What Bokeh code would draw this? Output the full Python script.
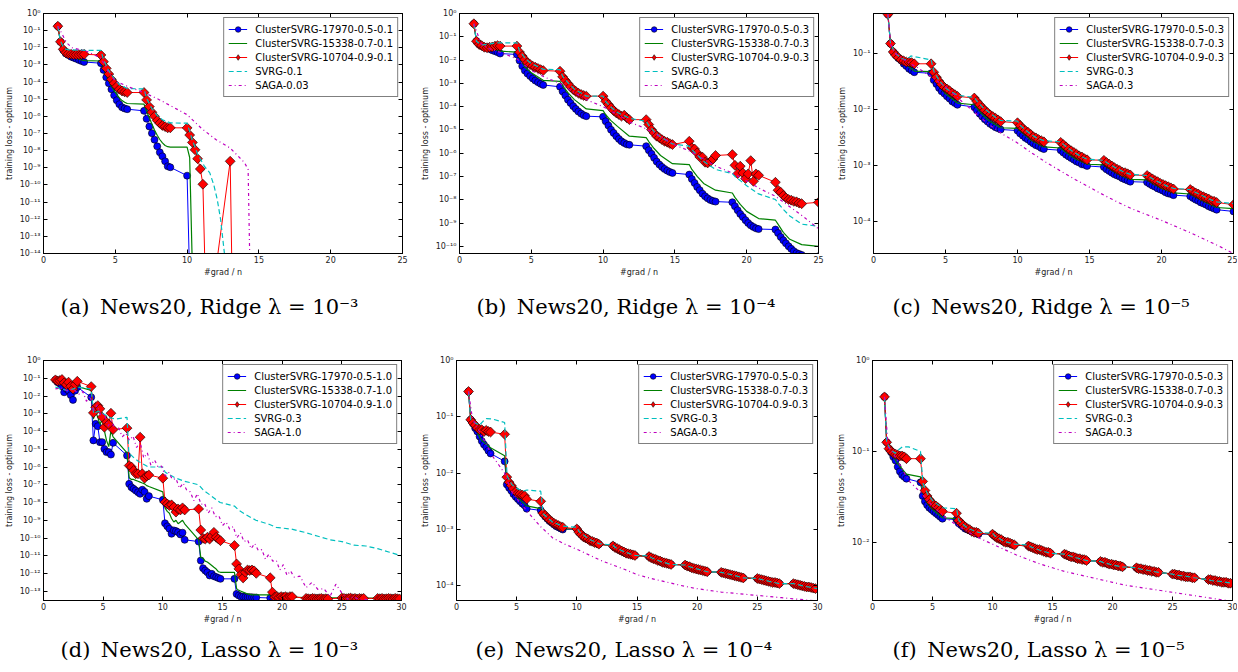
import numpy as np
from bokeh.plotting import figure
from bokeh.layouts import column, row
from bokeh.models import (Range1d, FixedTicker, CustomJSTickFormatter, LogAxis, LinearAxis,
                          Legend, LegendItem, Title)
from bokeh.embed import file_html
from bokeh.resources import INLINE

# ---------------- x grid of the ClusterSVRG / SVRG iterations (#grad / n) ----------------
EPOCH_STARTS = [1, 4, 7, 10, 13, 16, 19, 22, 25, 28]
EPOCH_STEPS = [0.0, 0.18, 0.37, 0.55, 0.73, 0.92, 1.10, 1.28, 1.47, 1.65, 1.83]
SUB_STEPS = [0.0, 0.18, 0.55, 1.0, 1.83]


def grid(n_epochs, steps, final=None):
    xs = [s + o for s in EPOCH_STARTS[:n_epochs] for o in steps]
    if final is not None:
        xs.append(final)
    return xs


X_RIDGE = grid(8, EPOCH_STEPS, 25.0)
XS_RIDGE = grid(8, SUB_STEPS, 25.0)
X_LASSO = grid(10, EPOCH_STEPS)
XS_LASSO = grid(10, SUB_STEPS)

RIDGE_XTICKS = [0, 5, 10, 15, 20, 25]
LASSO_XTICKS = [0, 5, 10, 15, 20, 25, 30]

# ---------------- values: log10(training loss - optimum) ----------------
# (a) Ridge 1e-3
A_BLUE = [-0.74, -1.65, -2.13, -2.33, -2.42, -2.52, -2.58, -2.64, -2.71, -2.77, -2.83,
          -2.90, -3.29, -3.72, -4.07, -4.42, -4.77, -5.06, -5.29, -5.47, -5.54, -5.58,
          -5.68, -6.14, -6.59, -6.98, -7.36, -7.75, -8.10, -8.33, -8.62, -8.91, -8.97,
          -9.46, -15.5]
A_GREEN = [-0.74, -1.65, -2.10, -2.28, -2.38, -2.46, -2.53, -2.60, -2.66, -2.71, -2.75,
           -2.77, -3.20, -3.60, -3.95, -4.25, -4.50, -4.72, -4.92, -5.08, -5.18, -5.25,
           -5.29, -5.70, -6.10, -6.45, -6.80, -7.10, -7.35, -7.55, -7.70, -7.77, -7.79,
           -7.79, -8.40, -15.0]
A_RED = [-0.74, -1.65, -2.09, -2.29, -2.35, -2.38, -2.40, -2.40, -2.40, -2.38, -2.38,
         -2.42, -2.81, -3.20, -3.53, -3.84, -4.07, -4.26, -4.42, -4.52, -4.57, -4.61,
         -4.61, -5.04, -5.43, -5.76, -6.00, -6.24, -6.40, -6.53, -6.60, -6.67, -6.67,
         -6.67, -7.09, -7.52, -7.95, -8.47, -9.07, -9.96, -16.0, -16.0, -16.0, -16.0,
         -8.62, -18.0]
A_SVRG_X = [1.0, 1.18, 1.37, 1.55, 1.9, 2.3, 2.83, 4.0, 4.18, 4.55, 4.92, 5.28, 5.83, 7.0, 7.18,
            7.55, 7.92, 8.28, 8.83, 10.0, 10.37, 10.73, 11.2, 11.58, 11.86, 12.1, 12.33, 12.6, 12.7]
A_SVRG = [-0.74, -1.6, -1.95, -2.08, -2.15, -2.12, -2.15, -2.15, -2.7, -3.35, -3.8, -4.15, -4.38,
          -4.4, -4.95, -5.55, -5.95, -6.2, -6.38, -6.4, -7.4, -8.2, -8.9, -9.3, -10.0, -10.85,
          -12.0, -14.0, -15.0]
A_SAGA_X = [1.0, 1.3, 1.6, 2.0, 2.5, 3.0, 4.0, 4.5, 5.0, 6.0, 7.0, 8.0, 9.0, 10.0, 11.0, 12.0,
            13.0, 14.0, 14.25, 14.4]
A_SAGA = [-0.74, -1.2, -1.7, -2.0, -2.1, -2.2, -2.6, -3.4, -3.95, -4.3, -4.62, -5.0, -5.45, -5.9,
          -6.7, -7.35, -7.85, -8.7, -9.1, -16.0]

# (b) Ridge 1e-4
B_BLUE = [-0.44, -1.19, -1.33, -1.40, -1.45, -1.48, -1.52, -1.58, -1.62, -1.66, -1.72,
          -1.76, -2.02, -2.26, -2.45, -2.58, -2.69, -2.79, -2.88, -2.95, -3.02, -3.07,
          -3.15, -3.35, -3.52, -3.70, -3.84, -3.98, -4.10, -4.21, -4.30, -4.37, -4.41,
          -4.44, -4.63, -4.81, -4.99, -5.13, -5.27, -5.39, -5.49, -5.56, -5.62, -5.64,
          -5.70, -5.87, -6.03, -6.20, -6.36, -6.49, -6.59, -6.68, -6.75, -6.81, -6.85,
          -6.92, -7.11, -7.28, -7.45, -7.59, -7.74, -7.85, -7.94, -8.01, -8.05, -8.08,
          -8.11, -8.28, -8.45, -8.61, -8.74, -8.88, -9.00, -9.10, -9.17, -9.23, -9.26,
          -9.28, -9.43, -9.60, -9.74, -9.87, -10.00, -10.11, -10.21, -10.29, -10.33, -10.37,
          -10.43]
B_GREEN = [-0.44, -1.19, -1.40, -1.47, -1.62,
           -1.66, -1.90, -2.30, -2.55, -2.87,
           -2.92, -3.10, -3.40, -3.70, -4.10,
           -4.17, -4.35, -4.60, -4.85, -5.27,
           -5.33, -5.50, -5.80, -6.10, -6.45,
           -6.49, -6.70, -7.00, -7.30, -7.59,
           -7.71, -7.90, -8.20, -8.50, -8.81,
           -8.88, -9.05, -9.40, -9.70, -9.93,
           -10.0]
B_RED = [-0.44, -1.19, -1.33, -1.38, -1.45, -1.47, -1.45, -1.44, -1.40, -1.38, -1.40,
         -1.40, -1.66, -1.83, -1.98, -2.12, -2.19, -2.26, -2.31, -2.36, -2.41, -2.45,
         -2.48, -2.72, -2.87, -3.01, -3.15, -3.27, -3.35, -3.42, -3.48, -3.52, -3.55,
         -3.55, -3.77, -3.91, -4.05, -4.17, -4.27, -4.34, -4.41, -4.37, -4.48, -4.56,
         -4.56, -4.77, -4.99, -5.13, -5.27, -5.34, -5.42, -5.49, -5.53, -5.59, -5.63,
         -5.49, -5.77, -5.82, -5.99, -6.16, -6.17, -6.39, -6.42, -6.36, -6.25, -6.10,
         -6.06, -6.52, -6.88, -6.56, -6.85, -7.09, -6.89, -6.32, -7.21, -6.89, -6.95,
         -7.25, -7.59, -7.68, -7.82, -7.92, -7.99, -8.02, -8.07, -8.09, -8.14, -8.17,
         -8.11]
B_SVRG_X = [1.0, 1.18, 1.5, 2.0, 2.4, 2.83, 4.0, 4.18, 4.6, 5.0, 5.83, 7.0, 7.18, 7.6, 8.0, 8.83,
            10.0, 10.18, 10.6, 11.0, 11.83, 13.0, 13.18, 13.6, 14.0, 14.83, 16.0, 16.18, 16.6,
            17.0, 17.83, 19.0, 19.18, 19.6, 20.0, 20.83, 22.0, 22.18, 22.6, 23.0, 23.83, 25.0]
B_SVRG = [-0.44, -1.19, -1.35, -1.33, -1.27, -1.26, -1.26, -1.60, -1.95, -2.15, -2.40, -2.41,
          -2.70, -3.00, -3.25, -3.55, -3.55, -3.78, -4.05, -4.25, -4.50, -4.63, -4.80, -5.10,
          -5.30, -5.60, -5.70, -5.85, -6.10, -6.35, -6.70, -6.88, -7.00, -7.20, -7.40, -7.75,
          -7.99, -8.15, -8.45, -8.70, -9.05, -9.14]
B_SAGA_X = [1.0, 1.5, 2.0, 3.0, 4.0, 5.0, 6.0, 7.0, 8.0, 9.0, 10.0, 11.0, 12.0, 13.0, 14.0,
            15.0, 16.0, 17.0, 18.0, 19.0, 20.0, 21.0, 22.0, 23.0, 24.0, 25.0]
B_SAGA = [-0.44, -1.3, -1.5, -1.7, -1.95, -2.45, -2.75, -3.0, -3.4, -3.75, -4.0, -4.35, -4.7,
          -4.95, -5.3, -5.65, -5.9, -6.25, -6.6, -6.85, -7.2, -7.55, -7.85, -8.3, -8.75, -9.25]

# (c) Ridge 1e-5
C_BLUE = [-0.31, -0.83, -0.98, -1.04, -1.09, -1.13, -1.19, -1.23, -1.28, -1.31, -1.34,
          -1.36, -1.48, -1.55, -1.62, -1.68, -1.72, -1.77, -1.81, -1.86, -1.89, -1.92,
          -1.96, -2.02, -2.08, -2.13, -2.18, -2.22, -2.26, -2.29, -2.32, -2.34, -2.36,
          -2.38, -2.43, -2.47, -2.51, -2.54, -2.58, -2.61, -2.64, -2.66, -2.69, -2.71,
          -2.73, -2.77, -2.81, -2.84, -2.87, -2.90, -2.93, -2.95, -2.98, -2.99, -3.01,
          -3.03, -3.07, -3.10, -3.13, -3.16, -3.18, -3.20, -3.23, -3.25, -3.27, -3.29,
          -3.30, -3.33, -3.36, -3.38, -3.41, -3.43, -3.45, -3.48, -3.50, -3.51, -3.53,
          -3.55, -3.58, -3.61, -3.63, -3.66, -3.68, -3.70, -3.73, -3.75, -3.77, -3.79,
          -3.82]
C_GREEN = [-0.31, -0.83, -1.04, -1.15, -1.32,
           -1.33, -1.45, -1.59, -1.72, -1.89,
           -1.92, -1.98, -2.09, -2.20, -2.33,
           -2.34, -2.39, -2.47, -2.56, -2.67,
           -2.69, -2.73, -2.80, -2.88, -2.98,
           -2.99, -3.03, -3.09, -3.16, -3.25,
           -3.26, -3.29, -3.35, -3.41, -3.49,
           -3.51, -3.54, -3.59, -3.65, -3.75,
           -3.77]
C_RED = [-0.31, -0.83, -0.98, -1.04, -1.08, -1.12, -1.14, -1.16, -1.16, -1.17, -1.19,
         -1.19, -1.34, -1.43, -1.50, -1.56, -1.61, -1.64, -1.67, -1.71, -1.74, -1.77,
         -1.80, -1.86, -1.92, -1.97, -2.02, -2.06, -2.10, -2.13, -2.16, -2.19, -2.22,
         -2.24, -2.29, -2.34, -2.38, -2.41, -2.45, -2.49, -2.51, -2.54, -2.56, -2.58,
         -2.59, -2.63, -2.67, -2.71, -2.74, -2.77, -2.80, -2.83, -2.85, -2.88, -2.90,
         -2.91, -2.95, -2.98, -3.01, -3.04, -3.07, -3.09, -3.12, -3.13, -3.15, -3.17,
         -3.18, -3.21, -3.24, -3.27, -3.29, -3.32, -3.34, -3.36, -3.38, -3.40, -3.42,
         -3.43, -3.46, -3.49, -3.51, -3.54, -3.56, -3.58, -3.60, -3.63, -3.64, -3.66,
         -3.70]
C_SVRG_X = [1.0, 1.18, 1.5, 2.0, 2.3, 2.6, 4.0, 4.2, 4.6, 5.0, 5.4, 5.83, 7.0, 7.2, 7.6, 8.0, 8.4,
            8.83, 10.0, 10.2, 10.6, 11.0, 11.4, 11.83, 13.0, 13.2, 13.6, 14.0, 14.4, 14.83, 16.0,
            16.2, 16.6, 17.0, 17.4, 17.83, 19.0, 19.2, 19.6, 20.0, 20.4, 20.83, 22.0, 22.2, 22.6,
            23.0, 23.4, 23.83, 25.0]
C_SVRG = [-0.31, -0.83, -1.0, -1.1, -1.12, -1.05, -1.12, -1.33, -1.5, -1.62, -1.69, -1.75,
          -1.79, -1.86, -1.97, -2.05, -2.13, -2.2, -2.21, -2.29, -2.38, -2.46, -2.52, -2.56,
          -2.58, -2.63, -2.71, -2.78, -2.84, -2.89, -2.91, -2.95, -3.01, -3.07, -3.12, -3.16,
          -3.18, -3.21, -3.27, -3.32, -3.37, -3.41, -3.43, -3.46, -3.51, -3.56, -3.61, -3.65,
          -3.68]
C_SAGA_X = [1.0, 1.2, 1.5, 2.0, 2.5, 3.0, 4.0, 5.0, 6.0, 7.0, 8.0, 9.0, 10.0, 11.0, 12.0, 13.0,
            14.0, 15.0, 16.0, 17.0, 18.0, 19.0, 20.0, 21.0, 22.0, 23.0, 24.0, 25.0]
C_SAGA = [-0.31, -0.85, -1.0, -1.1, -1.18, -1.25, -1.42, -1.6, -1.83, -2.05, -2.27, -2.45, -2.6,
          -2.78, -2.95, -3.1, -3.25, -3.39, -3.53, -3.66, -3.78, -3.88, -3.98, -4.09, -4.2,
          -4.32, -4.44, -4.57]

# (d) Lasso 1e-3
D_BLUE = [-1.09, -1.22, -1.30, -1.45, -1.79, -1.60, -1.69, -1.95, -2.22, -1.70, -1.50,
          -2.07, -4.50, -3.57, -3.70, -4.60, -4.60, -4.98, -5.16, -5.16, -5.30, -4.64,
          -5.35, -6.95, -7.14, -7.23, -7.32, -7.42, -7.51, -7.28, -7.40, -7.79, -7.64,
          -7.85, -9.17, -9.34, -9.48, -9.76, -9.57, -9.61, -9.67, -9.80, -9.70, -10.10,
          -10.20, -11.27, -11.70, -11.83, -11.93, -12.11, -12.02, -12.15, -12.20, -12.25, -12.30,
          -12.30, -13.15, -13.24, -13.30, -13.30, -13.32, -13.33, -13.33, -13.34, -13.35, -13.35,
          -13.38, -13.60]
D_GREEN = [-1.09, -1.20, -1.25, -1.35, -1.50, -1.55, -1.45, -1.65, -1.70, -1.50, -1.46,
           -1.69, -3.30, -2.90, -3.20, -3.60, -3.30, -3.95, -4.50, -4.85, -3.95, -4.30,
           -5.20, -6.60, -6.70, -6.70, -6.75, -6.80, -6.85, -6.90, -6.95, -7.05, -7.10,
           -7.40, -8.30, -8.50, -8.60, -8.90, -9.10, -9.00, -9.20, -9.10, -9.00, -9.20,
           -10.10, -11.10, -11.15, -11.30, -11.35, -11.45, -11.55, -11.65, -11.75, -11.90, -11.93,
           -11.93, -12.85, -12.95, -13.00, -13.05, -13.10, -13.15, -13.18, -13.20, -13.20, -13.20]
D_GREEN_TAIL_X = [19.0, 19.18, 22.0, 30.0]
D_GREEN_TAIL = [-13.20, -13.30, -13.35, -13.40]
D_RED = [-1.09, -1.15, -1.13, -1.07, -1.26, -1.37, -1.22, -1.45, -1.60, -1.35, -1.17,
         -1.47, -2.95, -2.63, -2.54, -2.72, -3.19, -3.76, -3.47, -3.60, -2.97, -3.89,
         -3.81, -5.92, -6.00, -6.20, -6.38, -6.38, -4.32, -6.38, -6.63, -6.50, -6.45,
         -6.63, -7.98, -8.08, -8.17, -8.13, -8.26, -8.54, -8.36, -8.42, -8.30, -8.42,
         -8.36, -9.55, -10.02, -10.06, -9.96, -10.06, -9.90, -9.68, -9.96, -10.05, -10.15,
         -10.42, -11.46, -11.74, -12.06, -12.25, -11.93, -11.80, -11.83, -11.80, -11.85, -11.99,
         -12.24, -13.05, -13.33, -13.30, -13.35, -13.30, -13.33, -13.30, -13.35, -13.30, -13.30,
         -13.40, -13.42, -13.43, -13.40, -13.42, -13.43, -13.42, -13.40, -13.43, -13.42, -13.43,
         -13.38, -13.40, -13.42, -13.40, -13.38, -13.42, -13.40, -13.43, -13.40, -13.42, -13.40,
         -13.40, -13.42, -13.40, -13.43, -13.42, -13.40, -13.42, -13.43, -13.40, -13.42, -13.43]
D_SVRG_X = [1.0, 1.5, 2.0, 2.5, 2.83, 4.0, 4.2, 4.6, 5.0, 5.5, 6.0, 7.0, 7.15, 7.6, 8.0, 8.8, 10.0,
            10.2, 10.6, 11.0, 11.8, 13.0, 13.4, 14.0, 14.8, 16.0, 16.4, 17.0, 17.8, 19.0, 19.5,
            20.8, 22.0, 23.0, 24.0, 25.0, 26.0, 27.0, 28.0, 29.0, 30.0]
D_SVRG = [-1.5, -1.6, -1.7, -1.6, -1.5, -1.6, -3.0, -2.85, -3.0, -3.2, -3.3, -3.2, -5.2, -5.5,
          -5.7, -6.0, -6.0, -6.3, -6.45, -6.6, -6.8, -7.0, -7.3, -7.6, -8.0, -8.2, -8.45, -8.7,
          -9.0, -9.25, -9.4, -9.5, -9.7, -9.9, -10.1, -10.2, -10.4, -10.45, -10.6, -10.8, -11.0]
D_SAGA_X = [1.0, 1.5, 2.0, 2.5, 3.0, 3.3, 3.6, 3.9, 4.2, 4.5, 4.8, 5.1, 5.4, 5.7, 6.0, 6.3, 6.6,
            6.9, 7.2, 7.5, 7.8, 8.1, 8.4, 8.7, 9.0, 9.3, 9.6, 9.9, 10.2, 10.5, 10.8, 11.1, 11.4,
            11.7, 12.0, 12.3, 12.6, 12.9, 13.2, 13.5, 13.8, 14.1, 14.4, 14.7, 15.0, 15.3, 15.6,
            15.9, 16.2, 16.5, 16.8, 17.1, 17.4, 17.7, 18.0, 18.3, 18.6, 18.9, 19.2, 19.5, 19.8,
            20.1, 20.4, 20.7, 21.0, 21.5, 22.0, 22.5, 23.0, 23.5, 24.0, 24.5, 25.0, 25.5, 26.0,
            26.5, 27.0, 28.0]
D_SAGA = [-1.6, -1.55, -1.7, -1.6, -1.9, -1.75, -2.3, -2.0, -2.9, -2.5,
          -3.1, -3.0, -3.7, -3.4, -3.9, -3.8, -4.3, -4.1, -4.5, -4.25,
          -4.9, -4.6, -5.5, -5.2, -5.9, -5.6, -6.0, -5.95, -6.5, -6.3,
          -6.7, -6.65, -7.2, -6.9, -7.3, -7.4, -7.9, -7.5, -8.1, -8.05,
          -8.6, -8.3, -8.8, -8.75, -9.3, -9.1, -9.5, -9.35, -10.0, -9.7,
          -10.2, -10.1, -10.6, -10.3, -10.7, -10.65, -11.2, -10.9, -11.3, -11.25,
          -11.8, -11.5, -12.1, -11.85, -12.2, -12.15, -12.8, -12.5, -12.9, -12.85,
          -13.3, -12.6, -13.1, -13.45, -13.3, -13.5, -13.45, -13.7]

# (e) Lasso 1e-4
E_RED = [-0.55, -1.05, -1.11, -1.15, -1.20, -1.23, -1.23, -1.26, -1.24, -1.26, -1.27,
         -1.31, -2.07, -2.16, -2.22, -2.28, -2.33, -2.36, -2.37, -2.39, -2.40, -2.46,
         -2.50, -2.71, -2.75, -2.79, -2.83, -2.86, -2.89, -2.91, -2.93, -2.95, -2.96,
         -2.99, -3.05, -3.09, -3.13, -3.15, -3.17, -3.20, -3.21, -3.23, -3.24, -3.26,
         -3.29, -3.32, -3.34, -3.36, -3.38, -3.40, -3.42, -3.43, -3.44, -3.45, -3.46,
         -3.48, -3.50, -3.52, -3.53, -3.55, -3.56, -3.58, -3.59, -3.60, -3.61, -3.62,
         -3.63, -3.65, -3.66, -3.68, -3.69, -3.70, -3.71, -3.72, -3.73, -3.74, -3.75,
         -3.76, -3.77, -3.78, -3.79, -3.80, -3.81, -3.82, -3.83, -3.84, -3.85, -3.86,
         -3.87, -3.88, -3.89, -3.90, -3.91, -3.92, -3.93, -3.94, -3.94, -3.95, -3.96,
         -3.96, -3.97, -3.98, -3.99, -4.00, -4.01, -4.02, -4.02, -4.03, -4.04, -4.05]
E_BLUE = [-0.55, -1.05, -1.12, -1.20, -1.26, -1.35, -1.43, -1.49, -1.54, -1.60, -1.65,
          -1.79, -2.20, -2.26, -2.31, -2.37, -2.42, -2.46, -2.50, -2.54, -2.57, -2.63,
          -2.66, -2.72, -2.77, -2.81, -2.85, -2.88, -2.91, -2.94, -2.96, -2.98, -3.00] + E_RED[33:]
E_GREEN = [-0.55, -1.05, -1.19, -1.40, -1.55,
           -1.69, -2.15, -2.28, -2.42, -2.58,
           -2.63, -2.70, -2.79, -2.88, -2.99,
           -2.99, -3.05, -3.13, -3.19, -3.26,
           -3.29, -3.32, -3.36, -3.41, -3.46,
           -3.48, -3.50, -3.53, -3.57, -3.62,
           -3.63, -3.65, -3.68, -3.71, -3.75,
           -3.76, -3.77, -3.79, -3.82, -3.86,
           -3.87, -3.88, -3.90, -3.93, -3.96,
           -3.96, -3.97, -3.99, -4.01, -4.05]
E_SVRG_X = [1.0, 1.18, 1.5, 1.9, 2.2, 2.5, 3.0, 4.0, 4.2, 4.6, 5.0, 5.5, 5.83, 7.0, 7.2, 7.6, 8.0,
            8.83, 10.0, 10.2, 11.0, 11.83, 13.0, 13.2, 14.0, 14.83, 16.0, 16.2, 17.0, 17.83, 19.0,
            19.2, 20.0, 20.83, 22.0, 22.2, 23.0, 23.83, 25.0, 25.2, 26.0, 26.83, 28.0, 28.2, 29.0,
            30.0]
E_SVRG = [-0.55, -1.05, -1.10, -1.15, -1.08, -1.03, -1.04, -1.10, -2.05, -2.20, -2.27, -2.32,
          -2.30, -2.32, -2.72, -2.80, -2.87, -2.94, -2.96, -3.04, -3.17, -3.25, -3.28, -3.32,
          -3.40, -3.46, -3.47, -3.50, -3.57, -3.62, -3.63, -3.65, -3.70, -3.75, -3.76, -3.77,
          -3.81, -3.86, -3.87, -3.88, -3.92, -3.96, -3.96, -3.97, -4.01, -4.05]
E_SAGA_X = [1.0, 1.3, 1.6, 2.0, 2.5, 3.0, 3.5, 4.0, 4.5, 5.0, 6.0, 7.0, 8.0, 9.0, 10.0, 11.0, 12.0,
            13.0, 14.0, 15.0, 16.0, 17.0, 18.0, 19.0, 20.0, 21.0, 22.0, 23.0, 24.0, 25.0, 26.0,
            27.0, 28.0, 29.0, 30.0]
E_SAGA = [-0.55, -1.0, -1.15, -1.3, -1.5, -1.7, -1.85, -2.0, -2.3, -2.45, -2.71, -2.95, -3.15,
          -3.26, -3.35, -3.45, -3.55, -3.63, -3.71, -3.8, -3.86, -3.91, -3.96, -4.01, -4.05,
          -4.08, -4.11, -4.13, -4.15, -4.17, -4.19, -4.21, -4.23, -4.25, -4.27]

# (f) Lasso 1e-5
F_RED = [-0.40, -0.90, -0.97, -1.00, -1.02, -1.03, -1.04, -1.05, -1.05, -1.06, -1.08,
         -1.08, -1.33, -1.43, -1.49, -1.53, -1.56, -1.59, -1.60, -1.62, -1.64, -1.66,
         -1.68, -1.76, -1.79, -1.81, -1.83, -1.85, -1.86, -1.88, -1.89, -1.89, -1.90,
         -1.91, -1.93, -1.95, -1.96, -1.97, -1.99, -2.00, -2.00, -2.01, -2.02, -2.03,
         -2.04, -2.05, -2.06, -2.07, -2.08, -2.08, -2.09, -2.10, -2.11, -2.11, -2.12,
         -2.13, -2.14, -2.15, -2.16, -2.16, -2.17, -2.18, -2.18, -2.19, -2.19, -2.20,
         -2.21, -2.22, -2.22, -2.23, -2.24, -2.24, -2.25, -2.25, -2.26, -2.26, -2.27,
         -2.28, -2.29, -2.29, -2.30, -2.30, -2.31, -2.31, -2.32, -2.32, -2.33, -2.33,
         -2.35, -2.35, -2.36, -2.36, -2.37, -2.37, -2.38, -2.38, -2.38, -2.39, -2.39,
         -2.41, -2.41, -2.42, -2.42, -2.43, -2.43, -2.44, -2.44, -2.44, -2.45, -2.45]
F_BLUE = [-0.40, -0.90, -0.97, -1.01, -1.06, -1.10, -1.17, -1.22, -1.26, -1.28, -1.30,
          -1.34, -1.49, -1.55, -1.59, -1.62, -1.64, -1.66, -1.68, -1.70, -1.72, -1.74,
          -1.75, -1.79, -1.81, -1.83, -1.85, -1.86, -1.87, -1.88, -1.89, -1.90, -1.91] + F_RED[33:]
F_GREEN = [-0.40, -0.90, -1.00, -1.12, -1.25,
           -1.28, -1.45, -1.57, -1.64, -1.73,
           -1.74, -1.78, -1.83, -1.86, -1.90,
           -1.91, -1.93, -1.96, -1.99, -2.03,
           -2.04, -2.05, -2.07, -2.09, -2.12,
           -2.13, -2.14, -2.16, -2.17, -2.20,
           -2.21, -2.22, -2.23, -2.25, -2.27,
           -2.28, -2.29, -2.30, -2.31, -2.33,
           -2.35, -2.35, -2.36, -2.37, -2.39,
           -2.41, -2.41, -2.42, -2.43, -2.45]
F_SVRG_X = [1.0, 1.18, 1.5, 1.9, 2.2, 2.5, 3.0, 4.0, 4.2, 4.6, 5.0, 5.4, 5.83, 7.0, 7.2, 7.6, 8.0,
            8.83, 10.0, 10.2, 11.0, 11.83, 13.0, 13.2, 14.0, 14.83, 16.0, 16.2, 17.0, 17.83, 19.0,
            19.2, 20.0, 20.83, 22.0, 22.2, 23.0, 23.83, 25.0, 25.2, 26.0, 26.83, 28.0, 28.2, 29.0,
            30.0]
F_SVRG = [-0.40, -0.90, -0.98, -1.02, -0.98, -0.95, -0.95, -1.00, -1.35, -1.47, -1.54, -1.58,
          -1.62, -1.63, -1.76, -1.81, -1.85, -1.89, -1.90, -1.93, -1.99, -2.02, -2.03, -2.05,
          -2.09, -2.12, -2.13, -2.14, -2.17, -2.20, -2.21, -2.22, -2.25, -2.27, -2.28, -2.29,
          -2.31, -2.33, -2.35, -2.36, -2.37, -2.39, -2.41, -2.42, -2.43, -2.45]
F_SAGA_X = [1.0, 1.3, 1.6, 2.0, 2.5, 3.0, 4.0, 5.0, 6.0, 7.0, 8.0, 9.0, 10.0, 11.0, 12.0, 13.0,
            14.0, 15.0, 16.0, 17.0, 18.0, 19.0, 20.0, 21.0, 22.0, 23.0, 24.0, 25.0, 26.0, 27.0,
            28.0, 29.0, 30.0]
F_SAGA = [-0.4, -0.95, -1.0, -1.08, -1.2, -1.32, -1.45, -1.6, -1.72, -1.81, -1.89, -1.96, -2.02,
          -2.08, -2.14, -2.19, -2.24, -2.28, -2.32, -2.35, -2.38, -2.41, -2.44, -2.47, -2.49,
          -2.51, -2.53, -2.55, -2.57, -2.59, -2.61, -2.63, -2.65]

# ---------------- labels ----------------
NAMES_A = ["ClusterSVRG-17970-0.5-0.1", "ClusterSVRG-15338-0.7-0.1", "ClusterSVRG-10704-0.9-0.1",
           "SVRG-0.1", "SAGA-0.03"]
NAMES_B = ["ClusterSVRG-17970-0.5-0.3", "ClusterSVRG-15338-0.7-0.3", "ClusterSVRG-10704-0.9-0.3",
           "SVRG-0.3", "SAGA-0.3"]
NAMES_D = ["ClusterSVRG-17970-0.5-1.0", "ClusterSVRG-15338-0.7-1.0", "ClusterSVRG-10704-0.9-1.0",
           "SVRG-0.3", "SAGA-1.0"]
CAPTIONS = ["(a)\u2002News20, Ridge \u03bb = 10\u207b\u00b3",
            "(b)\u2002News20, Ridge \u03bb = 10\u207b\u2074",
            "(c)\u2002News20, Ridge \u03bb = 10\u207b\u2075",
            "(d)\u2002News20, Lasso \u03bb = 10\u207b\u00b3",
            "(e)\u2002News20, Lasso \u03bb = 10\u207b\u2074",
            "(f)\u2002News20, Lasso \u03bb = 10\u207b\u2075"]

# ---------------- styling ----------------
FONT = "DejaVu Sans"
CAP_FONT = "DejaVu Serif"
BLUE, GREEN, RED, CYAN, MAGENTA = "#0000ff", "#008000", "#ff0000", "#00bfbf", "#bf00bf"
SUP_JS = """
const s = {'-':'\u207b','0':'\u2070','1':'\u00b9','2':'\u00b2','3':'\u00b3','4':'\u2074',
           '5':'\u2075','6':'\u2076','7':'\u2077','8':'\u2078','9':'\u2079'};
const e = Math.round(Math.log10(tick));
return '10' + String(e).split('').map(c => s[c]).join('');
"""


def ylog(v):
    return 10.0 ** np.asarray(v, dtype=float)


def style_axis(ax):
    ax.major_tick_in = 4
    ax.major_tick_out = 0
    ax.minor_tick_line_color = None
    ax.axis_line_color = "black"
    ax.major_tick_line_color = "black"
    ax.major_label_text_font = FONT
    ax.major_label_text_font_size = "8px"
    ax.major_label_text_color = "#222222"
    ax.axis_label_text_font = FONT
    ax.axis_label_text_font_size = "8px"
    ax.axis_label_text_font_style = "normal"
    ax.axis_label_text_color = "#222222"


def panel(xmax, xticks, ylo, yhi, yexps, names, caption, cap_off, cap_standoff,
          blue, green, red, svrg, saga, width, height, bl, br, bt, bb):
    p = figure(width=width, height=height, title=None,
               x_range=Range1d(0, xmax), y_range=Range1d(10.0 ** ylo, 10.0 ** yhi),
               y_axis_type="log", output_backend="svg", toolbar_location=None,
               min_border_left=bl, min_border_right=br, min_border_top=bt, min_border_bottom=bb)
    p.background_fill_color = "white"
    p.border_fill_color = "white"
    p.outline_line_color = "black"
    p.outline_line_width = 1
    p.xgrid.visible = False
    p.ygrid.visible = False
    yticks = [10.0 ** k for k in yexps]

    p.xaxis.ticker = FixedTicker(ticks=xticks)
    p.yaxis.ticker = FixedTicker(ticks=yticks)
    p.yaxis.formatter = CustomJSTickFormatter(code=SUP_JS)
    style_axis(p.xaxis[0])
    style_axis(p.yaxis[0])
    p.xaxis.axis_label = "#grad / n"
    p.yaxis.axis_label = "training loss - optimum"
    p.xaxis.major_label_standoff = 2
    p.xaxis.axis_label_standoff = 2
    p.yaxis.major_label_standoff = 3
    p.yaxis.axis_label_standoff = 3

    empty = "return '';"
    ra = LogAxis(ticker=FixedTicker(ticks=yticks), formatter=CustomJSTickFormatter(code=empty))
    ta = LinearAxis(ticker=FixedTicker(ticks=xticks), formatter=CustomJSTickFormatter(code=empty))
    for ax in (ra, ta):
        style_axis(ax)
        ax.major_label_standoff = 0
        ax.major_label_text_font_size = "1px"
    p.add_layout(ra, "right")
    p.add_layout(ta, "above")

    bx, by = blue
    gx, gy = green
    rx, ry = red
    sx, sy = svrg
    qx, qy = saga
    bl_r = p.line(bx, ylog(by), line_color=BLUE, line_width=1)
    bp_r = p.scatter(bx, ylog(by), marker="circle", size=7, fill_color=BLUE,
                     line_color="black", line_width=0.6)
    g_r = p.line(gx, ylog(gy), line_color=GREEN, line_width=1.2)
    rl_r = p.line(rx, ylog(ry), line_color=RED, line_width=1)
    p.scatter(rx, ylog(ry), marker="square", angle=np.pi / 4, size=7, fill_color=RED,
              line_color="black", line_width=0.6)
    # legend-only diamond, placed outside the visible x range
    rleg = p.scatter([-100.0], [0.1], marker="diamond", size=9, fill_color=RED,
                     line_color="black", line_width=0.6)
    s_r = p.line(sx, ylog(sy), line_color=CYAN, line_width=1.2, line_dash="5 3")
    q_r = p.line(qx, ylog(qy), line_color=MAGENTA, line_width=1.2, line_dash="3 3 1 3")

    items = [LegendItem(label=names[0], renderers=[bl_r, bp_r]),
             LegendItem(label=names[1], renderers=[g_r]),
             LegendItem(label=names[2], renderers=[rl_r, rleg]),
             LegendItem(label=names[3], renderers=[s_r]),
             LegendItem(label=names[4], renderers=[q_r])]
    lg = Legend(items=items, location="top_right", margin=4, padding=4, spacing=0,
                label_text_font=FONT, label_text_font_size="10px", label_text_color="black",
                label_height=14, glyph_height=14, glyph_width=19, label_standoff=8,
                border_line_color="black", border_line_width=1,
                background_fill_color="white", background_fill_alpha=1.0)
    p.add_layout(lg)

    cap = Title(text=caption, align="left", offset=cap_off, standoff=cap_standoff,
                text_font=CAP_FONT, text_font_size="21px", text_font_style="normal",
                text_color="black")
    p.add_layout(cap, "below")
    return p


def xs(grid_x, vals):
    return grid_x[:len(vals)]


# row 1: figures 0..346 px tall, frames 13..253 ; row 2: 346..671, frames 360..600
pa = panel(25, RIDGE_XTICKS, -14.0, 0.0, list(range(-14, 1)), NAMES_A, CAPTIONS[0], 17, 26,
           (xs(X_RIDGE, A_BLUE), A_BLUE), (xs(X_RIDGE, A_GREEN), A_GREEN),
           (xs(X_RIDGE, A_RED), A_RED), (A_SVRG_X, A_SVRG), (A_SAGA_X, A_SAGA),
           416, 346, 43, 14, 13, 93)
pb = panel(25, RIDGE_XTICKS, -10.31, 0.0, list(range(-10, 1)), NAMES_B, CAPTIONS[1], 17, 26,
           (X_RIDGE, B_BLUE), (XS_RIDGE, B_GREEN), (X_RIDGE, B_RED),
           (B_SVRG_X, B_SVRG), (B_SAGA_X, B_SAGA),
           413, 346, 43, 11, 13, 93)
pc = panel(25, RIDGE_XTICKS, -4.57, -0.294, list(range(-4, 0)), NAMES_B, CAPTIONS[2], 19, 26,
           (X_RIDGE, C_BLUE), (XS_RIDGE, C_GREEN), (X_RIDGE, C_RED),
           (C_SVRG_X, C_SVRG), (C_SAGA_X, C_SAGA),
           408, 346, 44, 4, 13, 93)
pd = panel(30, LASSO_XTICKS, -13.52, 0.0, list(range(-13, 1)), NAMES_D, CAPTIONS[3], 17, 19,
           (xs(X_LASSO, D_BLUE), D_BLUE),
           (X_LASSO[:len(D_GREEN)] + D_GREEN_TAIL_X, D_GREEN + D_GREEN_TAIL),
           (X_LASSO, D_RED), (D_SVRG_X, D_SVRG), (D_SAGA_X, D_SAGA),
           416, 325, 43, 15, 14, 71)
pe = panel(30, LASSO_XTICKS, -4.26, 0.0, list(range(-4, 1)), NAMES_B, CAPTIONS[4], 19, 19,
           (X_LASSO, E_BLUE), (XS_LASSO, E_GREEN), (X_LASSO, E_RED),
           (E_SVRG_X, E_SVRG), (E_SAGA_X, E_SAGA),
           413, 325, 40, 12, 14, 71)
pf = panel(30, LASSO_XTICKS, -2.64, 0.0, list(range(-2, 1)), NAMES_B, CAPTIONS[5], 20, 19,
           (X_LASSO, F_BLUE), (XS_LASSO, F_GREEN), (X_LASSO, F_RED),
           (F_SVRG_X, F_SVRG), (F_SAGA_X, F_SAGA),
           408, 325, 43, 5, 14, 71)

layout = column(row(pa, pb, pc), row(pd, pe, pf))
open("out.html", "w").write(file_html(layout, INLINE, "ClusterSVRG"))
